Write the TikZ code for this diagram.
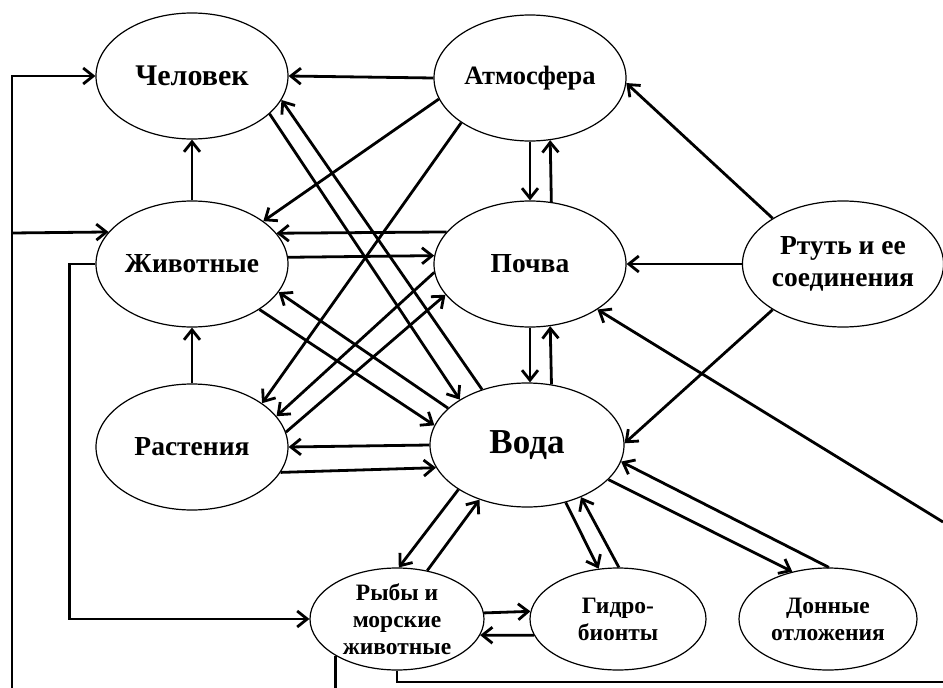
\documentclass[tikz,border=0pt]{standalone}
\usepackage{fontspec}
\setmainfont{Liberation Serif}
\usetikzlibrary{shapes.geometric,arrows.meta,calc}
\begin{document}
\begin{tikzpicture}[x=1pt,y=-1pt,
  el/.style={ellipse,draw,line width=1.2pt,inner sep=0pt,minimum width=192pt,minimum height=126pt,font=\bfseries\fontsize{27.5}{32}\selectfont,align=center},
  sm/.style={el,minimum width=176pt,minimum height=102pt,font=\bfseries\fontsize{23.5}{27}\selectfont},
  arr/.style={line width=2.8pt,-{Straight Barb[length=10pt,width=16pt]}},
  ln/.style={line width=2.8pt}]
\useasboundingbox (0,0) rectangle (943,688);
% nodes
\node[el,font=\bfseries\fontsize{30}{32}\selectfont] (chel) at (192,76) {Человек};
\node[el] (ziv) at (192,264) {Животные};
\node[el] (rast) at (192,447) {Растения};
\node[el,font=\bfseries\fontsize{26.5}{32}\selectfont] (atm) at (530,78) {Атмосфера};
\node[el] (poch) at (530,264) {Почва};
\node[el,minimum width=196pt] (rtut) at (843,264) {Ртуть и ее\\соединения};
\node[el,minimum width=194pt,minimum height=124pt,font=\bfseries\fontsize{35}{40}\selectfont] (voda) at (527,445) {Вода};
\node[sm,minimum width=174pt] (ryby) at (397,619) {Рыбы и\\морские\\животные};
\node[sm] (gidro) at (618,619) {Гидро-\\бионты};
\node[sm,minimum width=178pt] (don) at (828,619) {Донные\\отложения};
% free ends
\coordinate (L0) at (12,688);
\coordinate (B0) at (0,688);
\coordinate (R0) at (943,682);
\coordinate (E1) at (943,522);
% left frame
\draw[arr] (L0) |- (chel.west);
\draw[arr] (L0 |- 0,233) -- (ziv.159.7);
\draw[arr] (ziv.west) -- ++(-26,0) |- (ryby.west);
\draw[ln] (ryby.211.5) -- (ryby.211.5 |- B0);
\draw[ln] (ryby.south) |- (R0);
% top row
\draw[arr] (atm.west) -- (chel.east);
\draw[arr] (ziv.north) -- (chel.south);
\draw[arr] (rast.north) -- (ziv.south);
\draw[arr] (atm.south) -- (poch.north);
\draw[arr] (poch.71.1) -- (atm.288.9);
\draw[arr] (rtut.147.8) -- (atm.357.7);
\draw[arr] (rtut.west) -- (poch.east);
\draw[arr] (rtut.213.3) -- (voda.1.2);
\draw[arr] (E1) -- (poch.326.3);
% atmosphere diagonals
\draw[arr] (atm.193.3) -- (ziv.31.8);
\draw[arr] (atm.213.5) -- (rast.32.7);
% soil-animals
\draw[arr] (poch.159.7) -- (ziv.20.3);
\draw[arr] (ziv.4.2) -- (poch.175.8);
% man-water
\draw[arr] (chel.334) -- (voda.146.3);
\draw[arr] (voda.129.3) -- (chel.345.8);
% animals-water
\draw[arr] (ziv.326.9) -- (voda.168);
\draw[arr] (voda.155.1) -- (ziv.342.1);
% soil-plants
\draw[arr] (poch.185) -- (rast.20.6);
\draw[arr] (rast.9.8) -- (poch.200.8);
% soil-water
\draw[arr] (poch.south) -- (poch.south |- voda.north);
\draw[arr] (voda.68.2) -- (poch.288.9);
% plants-water
\draw[arr] (voda.west) -- (rast.east);
\draw[arr] (rast.344.9) -- (voda.194.3);
% water-bottom row
\draw[arr] (voda.213.1) -- (ryby.88);
\draw[arr] (ryby.58.7) -- (voda.229.1);
\draw[arr] (voda.304.3) -- (gidro.111.6);
\draw[arr] (gidro.89) -- (voda.316.5);
\draw[arr] (voda.337.6) -- (don.127.3);
\draw[arr] (don.89) -- (voda.350.2);
% fish-hydrobionts
\draw[arr] (ryby.4.7) -- (gidro.175.3);
\draw[arr] (gidro.191) -- (ryby.349);
\end{tikzpicture}
\end{document}
